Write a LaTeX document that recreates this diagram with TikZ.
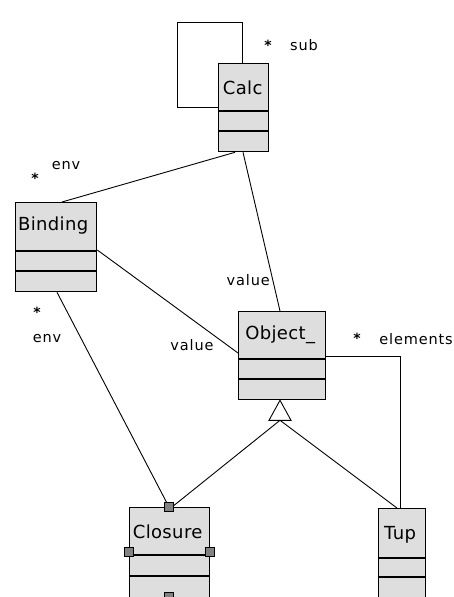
\documentclass[tikz,border=0pt]{standalone}
\usepackage{fontspec}
\setmainfont{DejaVu Sans}
\newfontfamily\clsfont[LetterSpace=2]{DejaVu Sans}
\newfontfamily\lblfont[LetterSpace=6]{DejaVu Sans}
\usetikzlibrary{calc}
\definecolor{boxfill}{RGB}{222,222,222}
\definecolor{portfill}{RGB}{130,130,130}
\tikzset{
  cls/.style={draw=black, fill=boxfill, line width=1.3pt, rectangle, inner sep=0pt, anchor=north west},
  clsname/.style={font=\clsfont\fontsize{18}{21}\selectfont, inner sep=0pt},
  lbl/.style={font=\lblfont\fontsize{14.5}{17}\selectfont, inner sep=0pt},
  star/.style={font=\fontsize{14}{16}\selectfont\bfseries, inner sep=0pt},
  conn/.style={draw=black, line width=0.9pt},
  divider/.style={draw=black, line width=1.3pt},
  port/.style={draw=black, fill=portfill, line width=0.8pt, rectangle, minimum size=9pt, inner sep=0pt},
}
\begin{document}
\begin{tikzpicture}[x=1pt,y=-1pt]
\useasboundingbox (0,0) rectangle (453,597);
\clip (0,0) rectangle (453,597);
\fill[white] (0,0) rectangle (453,597);

% class boxes
\node[cls, minimum width=50pt, minimum height=88pt] (calc) at (218,63) {};
\node[cls, minimum width=81pt, minimum height=89pt] (binding) at (15,202) {};
\node[cls, minimum width=87pt, minimum height=88pt] (object) at (238,311) {};
\node[cls, minimum width=80pt, minimum height=130pt] (closure) at (129,507) {};
\node[cls, minimum width=47pt, minimum height=130pt] (tup) at (378,508) {};

% dividers
\draw[divider] ($(calc.north west)+(0,48)$) -- ($(calc.north east)+(0,48)$);
\draw[divider] ($(calc.north west)+(0,68)$) -- ($(calc.north east)+(0,68)$);
\draw[divider] ($(binding.north west)+(0,49)$) -- ($(binding.north east)+(0,49)$);
\draw[divider] ($(binding.north west)+(0,69)$) -- ($(binding.north east)+(0,69)$);
\draw[divider] ($(object.north west)+(0,48)$) -- ($(object.north east)+(0,48)$);
\draw[divider] ($(object.north west)+(0,68)$) -- ($(object.north east)+(0,68)$);
\draw[divider] ($(closure.north west)+(0,48)$) -- ($(closure.north east)+(0,48)$);
\draw[divider] ($(closure.north west)+(0,69)$) -- ($(closure.north east)+(0,69)$);
\draw[divider] ($(tup.north west)+(0,50)$) -- ($(tup.north east)+(0,50)$);
\draw[divider] ($(tup.north west)+(0,69)$) -- ($(tup.north east)+(0,69)$);

% class names
\node[clsname] (calcname) at ($(calc.north)+(-1,25)$) {Calc};
\node[clsname] (bindingname) at ($(binding.north)+(-3,24)$) {Binding};
\node[clsname] (objectname) at ($(object.north)+(-2,24)$) {Object\_};
\node[clsname] (closurename) at ($(closure.north)+(-2,25)$) {Closure};
\node[clsname] (tupname) at ($(tup.north)+(-2,27)$) {Tup};

% self loop on Calc
\coordinate (l1) at (242,22);
\coordinate (l2) at (177,107);
\draw[conn] ($(calc.north west)+(24,0)$) |- (l1) -| (l2) -- ($(calc.north west)+(0,44)$);

% associations
\draw[conn] ($(binding.north west)+(47,0)$) -- ($(calc.south west)+(17,0)$);
\draw[conn] ($(calc.south west)+(25,0)$) -- ($(object.north west)+(42,0)$);
\draw[conn] ($(binding.north east)+(0,48)$) -- ($(object.north west)+(0,42)$);
\draw[conn] ($(binding.south west)+(42,0)$) -- ($(closure.north west)+(40,0)$);
\draw[conn] ($(object.north east)+(0,45)$) -| ($(tup.north west)+(22,0)$);

% generalization
\coordinate (apex) at ($(object.south west)+(42,0)$);
\coordinate (tribase) at ($(apex)+(0,20)$);
\draw[conn, fill=white] (apex) -- ($(tribase)+(-11,0)$) -- ($(tribase)+(11,0)$) -- cycle;
\draw[conn] (tribase) -- ($(closure.north west)+(43,0)$);
\draw[conn] (tribase) -- ($(tup.north west)+(19,0)$);

% ports on Closure
\node[port] (ptop) at ($(closure.north west)+(40,0)$) {};
\node[port] (pleft) at ($(closure.north west)+(0,45)$) {};
\node[port] (pright) at ($(closure.north east)+(0,45)$) {};
\node[port] (pbottom) at ($(closure.north west)+(40,90)$) {};

% labels
\node[star] (s1) at (268,45) {*};
\node[lbl] (sub) at (304,45) {sub};
\node[star] (s2) at (35,178) {*};
\node[lbl] (env1) at (66,166) {env};
\node[star] (s3) at (37,312) {*};
\node[lbl] (env2) at (47,339) {env};
\node[lbl, anchor=east] (val1) at (270,280) {value};
\node[lbl] (val2) at (192,345) {value};
\node[star] (s4) at (357,338) {*};
\node[lbl, anchor=east] (elem) at (453,339) {elements};
\end{tikzpicture}
\end{document}
